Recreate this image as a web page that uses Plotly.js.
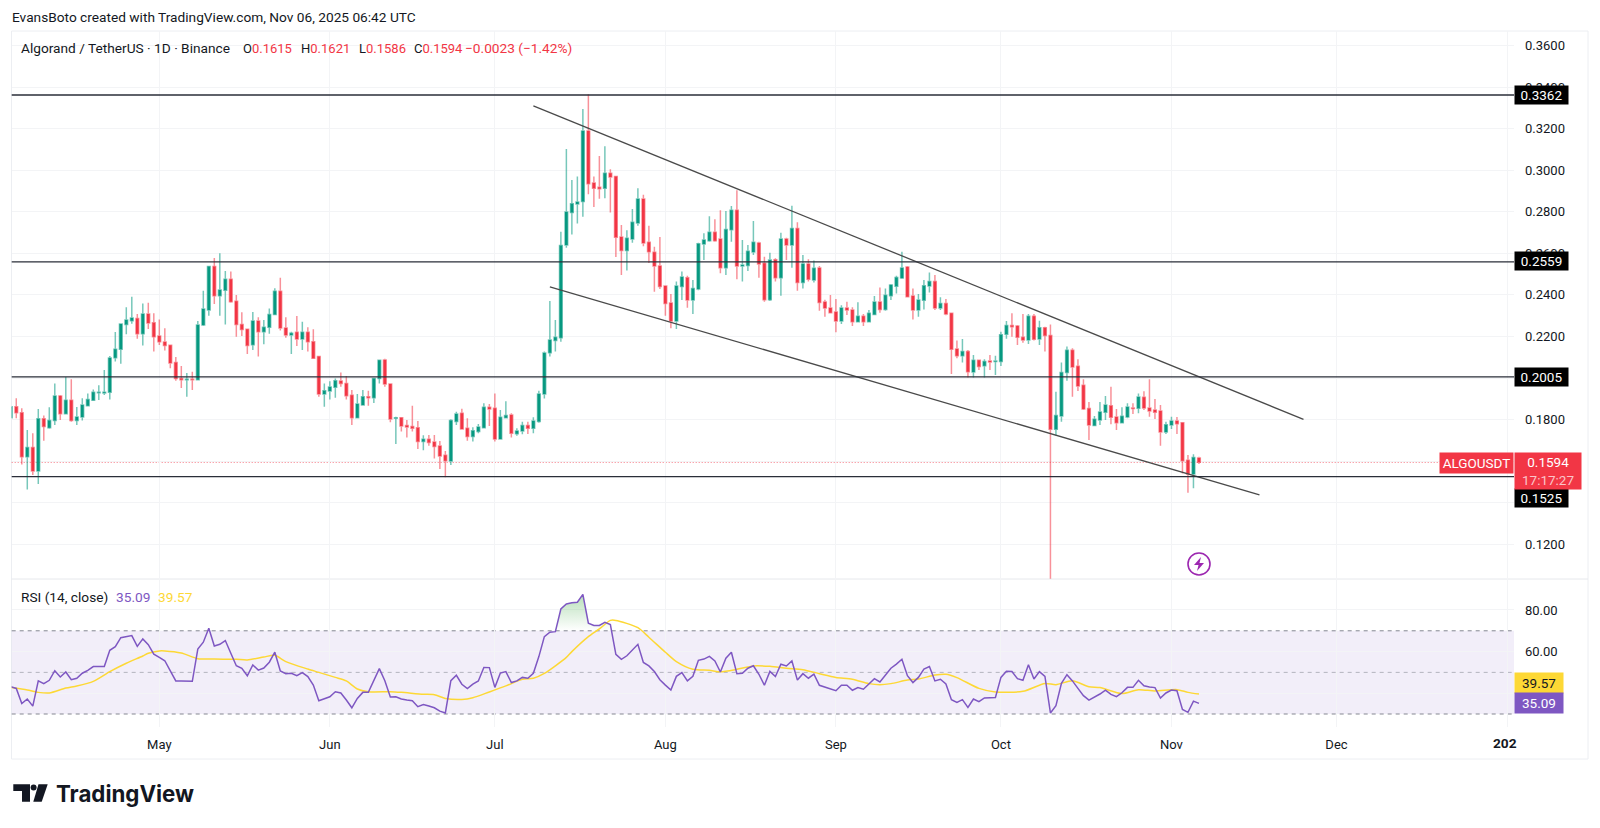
<!DOCTYPE html>
<html>
<head>
<meta charset="utf-8">
<title>ALGOUSDT</title>
<script src="https://cdn.plot.ly/plotly-3.0.1.min.js"></script>
<style>
  html, body { margin: 0; padding: 0; background: #fff; }
</style>
</head>
<body>
<div id="chart"></div>
<script>
// candles, one row per day: open, high, low, close
const candlesApr = [ // from the 4th
  [.1809,.1865,.1809,.1862],[.1862,.1902,.1806,.1833],[.1833,.1854,.1584,.1621],[.1621,.1750,.1464,.1666],
  [.1666,.1734,.1533,.1552],[.1552,.1851,.1490,.1804],[.1804,.1819,.1698,.1766],[.1761,.1859,.1756,.1796],
  [.1796,.1974,.1774,.1913],[.1913,.1918,.1798,.1828],[.1828,.2005,.1828,.1893],[.1893,.1994,.1790,.1795],
  [.1795,.1860,.1774,.1812],[.1812,.1902,.1795,.1870],[.1867,.1926,.1867,.1896],[.1893,.1945,.1893,.1931],
  [.1929,.1965,.1894,.1931],[.1928,.2039,.1918,.1931],[.1931,.2106,.1897,.2096],[.2098,.2221,.2079,.2138],
  [.2138,.2263,.2069,.2260],[.2257,.2340,.2210,.2279],[.2276,.2391,.2261,.2289],[.2286,.2308,.2189,.2213],
  [.2213,.2359,.2156,.2308],[.2308,.2362,.2236,.2265],[.2266,.2311,.2127,.2199]
];
const candlesMay = [
  [.2202,.2282,.2159,.2175],[.2173,.2239,.2132,.2156],[.2157,.2157,.2047,.2072],[.2074,.2101,.1987,.1997],
  [.1998,.2058,.1952,.1992],[.1992,.2024,.1910,.1994],[.1994,.2030,.1942,.1992],[.1992,.2274,.1990,.2255],
  [.2255,.2420,.2250,.2332],[.2327,.2537,.2300,.2537],[.2537,.2577,.2356,.2396],[.2396,.2600,.2300,.2423],
  [.2422,.2515,.2257,.2475],[.2475,.2512,.2362,.2367],[.2369,.2399,.2199,.2258],[.2258,.2316,.2202,.2233],
  [.2234,.2236,.2116,.2156],[.2160,.2318,.2135,.2274],[.2274,.2292,.2104,.2223],[.2223,.2279,.2162,.2244],
  [.2244,.2335,.2213,.2306],[.2305,.2432,.2302,.2417],[.2417,.2483,.2228,.2241],[.2241,.2292,.2194,.2207],
  [.2207,.2223,.2116,.2215],[.2220,.2298,.2154,.2188],[.2188,.2271,.2135,.2220],[.2220,.2244,.2127,.2175],
  [.2175,.2234,.2093,.2095],[.2103,.2107,.1910,.1923],[.1923,.1974,.1862,.1939]
];
const candlesJun = [
  [.1937,.1984,.1897,.1957],[.1955,.1997,.1905,.1987],[.1986,.2027,.1958,.1973],[.1973,.2010,.1897,.1914],
  [.1917,.1942,.1774,.1809],[.1809,.1923,.1806,.1875],[.1870,.1942,.1867,.1910],[.1910,.1939,.1867,.1905],
  [.1905,.1997,.1880,.1997],[.1997,.2085,.1974,.2085],[.2087,.2093,.1958,.1971],[.1971,.1974,.1787,.1803],
  [.1806,.1814,.1682,.1809],[.1809,.1809,.1742,.1769],[.1772,.1798,.1714,.1764],[.1767,.1867,.1742,.1758],
  [.1761,.1793,.1658,.1694],[.1694,.1724,.1652,.1705],[.1705,.1726,.1674,.1689],[.1692,.1726,.1613,.1670],
  [.1673,.1697,.1562,.1625],[.1628,.1649,.1522,.1602],[.1601,.1801,.1581,.1795],[.1791,.1838,.1774,.1827],
  [.1830,.1852,.1753,.1755],[.1758,.1806,.1698,.1718],[.1718,.1763,.1694,.1746],[.1743,.1779,.1734,.1764],
  [.1761,.1878,.1758,.1859],[.1859,.1875,.1769,.1851]
];
const candlesJul = [
  [.1854,.1926,.1694,.1706],[.1706,.1846,.1706,.1811],[.1809,.1888,.1809,.1820],[.1822,.1830,.1714,.1734],
  [.1732,.1758,.1722,.1745],[.1745,.1790,.1729,.1771],[.1771,.1790,.1730,.1758],[.1758,.1811,.1734,.1793],
  [.1791,.1939,.1785,.1923],[.1923,.2127,.1901,.2120],[.2122,.2371,.2103,.2183],[.2181,.2279,.2127,.2196],
  [.2194,.2704,.2175,.2638],[.2640,.3102,.2627,.2799],[.2797,.2953,.2691,.2839],[.2837,.2970,.2743,.2847],
  [.2849,.3295,.2776,.3189],[.3189,.3365,.2884,.2935],[.2938,.2970,.2823,.2913],[.2918,.3068,.2863,.2911],
  [.2913,.3115,.2865,.2985],[.2985,.3004,.2796,.2967],[.2970,.2970,.2582,.2677],[.2679,.2736,.2496,.2614],
  [.2614,.2711,.2517,.2672],[.2669,.2813,.2651,.2749],[.2746,.2913,.2733,.2861],[.2861,.2882,.2634,.2650],
  [.2653,.2733,.2553,.2608],[.2605,.2632,.2415,.2539],[.2539,.2679,.2428,.2440]
];
const candlesAug = [
  [.2443,.2443,.2300,.2359],[.2361,.2404,.2239,.2274],[.2274,.2464,.2236,.2443],[.2440,.2512,.2375,.2486],
  [.2483,.2492,.2338,.2375],[.2375,.2472,.2308,.2431],[.2428,.2651,.2422,.2646],[.2645,.2696,.2568,.2664],
  [.2661,.2778,.2656,.2701],[.2701,.2764,.2656,.2661],[.2669,.2807,.2504,.2531],[.2531,.2804,.2496,.2715],
  [.2714,.2828,.2656,.2807],[.2807,.2903,.2475,.2539],[.2539,.2664,.2464,.2544],[.2541,.2640,.2515,.2610],
  [.2606,.2756,.2592,.2653],[.2650,.2656,.2483,.2549],[.2552,.2584,.2367,.2377],[.2377,.2603,.2371,.2568],
  [.2569,.2576,.2464,.2483],[.2483,.2699,.2396,.2669],[.2669,.2675,.2568,.2640],[.2640,.2829,.2531,.2719],
  [.2719,.2749,.2420,.2459],[.2459,.2592,.2431,.2549],[.2549,.2571,.2464,.2475],[.2472,.2565,.2459,.2528],
  [.2529,.2539,.2324,.2363],[.2366,.2376,.2295,.2337],[.2337,.2399,.2311,.2314]
];
const candlesSep = [
  [.2318,.2380,.2220,.2274],[.2274,.2350,.2260,.2337],[.2337,.2367,.2303,.2327],[.2327,.2340,.2250,.2271],
  [.2271,.2364,.2268,.2297],[.2297,.2308,.2250,.2271],[.2271,.2327,.2271,.2311],[.2305,.2395,.2303,.2366],
  [.2366,.2436,.2314,.2330],[.2330,.2431,.2324,.2398],[.2396,.2452,.2375,.2448],[.2441,.2492,.2407,.2484],
  [.2481,.2608,.2476,.2529],[.2534,.2539,.2388,.2391],[.2395,.2431,.2282,.2327],[.2327,.2404,.2295,.2375],
  [.2374,.2472,.2330,.2444],[.2443,.2508,.2411,.2464],[.2464,.2496,.2327,.2337],[.2337,.2388,.2327,.2358],
  [.2358,.2380,.2302,.2308],[.2311,.2311,.2019,.2138],[.2140,.2181,.2095,.2107],[.2107,.2188,.2075,.2128],
  [.2128,.2135,.2003,.2030],[.2029,.2111,.2003,.2085],[.2085,.2087,.2038,.2055],[.2059,.2090,.2003,.2080],
  [.2082,.2111,.2038,.2077],[.2079,.2107,.2014,.2082]
];
const candlesOct = [
  [.2079,.2223,.2058,.2208],[.2210,.2274,.2189,.2253],[.2253,.2311,.2199,.2247],[.2250,.2255,.2159,.2196],
  [.2196,.2308,.2170,.2183],[.2183,.2308,.2164,.2297],[.2297,.2308,.2180,.2186],[.2188,.2276,.2159,.2242],
  [.2242,.2247,.2127,.2204],[.2205,.2257,.1034,.1753],[.1753,.1934,.1723,.1819],[.1817,.2074,.1790,.2027],
  [.2026,.2151,.1987,.2133],[.2133,.2143,.1910,.2053],[.2056,.2090,.1938,.1962],[.1965,.1994,.1846,.1851],
  [.1853,.1885,.1702,.1774],[.1771,.1817,.1769,.1801],[.1798,.1885,.1774,.1836],[.1835,.1913,.1798,.1870],
  [.1867,.1958,.1777,.1811],[.1812,.1851,.1750,.1785],[.1785,.1859,.1782,.1816],[.1812,.1878,.1806,.1860],
  [.1856,.1878,.1827,.1853],[.1854,.1926,.1830,.1909],[.1907,.1936,.1846,.1856],[.1856,.1994,.1814,.1841],
  [.1846,.1899,.1803,.1835],[.1841,.1870,.1674,.1740],[.1740,.1790,.1731,.1775]
];
const candlesNov = [
  [.1774,.1814,.1755,.1793],[.1793,.1812,.1731,.1780],[.1785,.1788,.1541,.1602],[.1604,.1629,.1448,.1538],
  [.1538,.1633,.1469,.1618],[.1615,.1621,.1586,.1594]
];

// RSI (14) per day, same dates as the candles
const rsiApr = [43.1,42.3,35.0,37.2,33.8,45.9,44.6,46.2,50.8,47.8,50.2,46.5,47.2,49.6,51.0,52.8,52.8,52.8,60.6,62.4,66.7,67.3,67.7,62.5,66.1,63.3,58.8];
const rsiMay = [57.2,55.6,50.7,45.9,45.9,45.7,45.7,61.2,64.5,71.2,62.7,63.5,65.3,59.2,53.2,52.0,48.4,53.6,51.1,52.1,54.9,59.7,50.7,49.4,49.6,48.4,49.9,48.0,43.9,36.4,37.2];
const rsiJun = [38.3,40.7,40.1,36.7,33.0,37.5,40.4,40.4,46.4,51.8,46.0,38.2,38.3,37.2,36.7,36.4,33.5,34.5,33.8,33.0,31.4,30.5,46.0,48.6,44.3,42.2,44.4,45.9,52.4,52.3];
const rsiJul = [42.8,49.7,50.4,45.1,45.9,47.6,47.2,49.6,57.6,67.2,69.3,69.6,80.5,82.9,83.5,83.7,87.5,73.7,72.6,72.6,74.1,73.0,58.7,56.3,58.0,60.6,63.5,54.8,53.1,50.4,46.5];
const rsiAug = [43.9,41.5,48.1,49.9,45.9,48.1,55.8,56.4,57.7,55.5,50.2,56.8,59.7,49.4,49.6,52.0,53.2,49.1,43.8,50.5,48.0,53.9,53.1,55.5,46.3,49.4,47.2,49.2,43.8,43.0,42.3];
const rsiSep = [41.2,43.8,43.8,41.4,42.7,41.9,44.4,47.0,45.4,48.9,52.0,54.0,56.3,48.4,45.1,47.6,51.6,52.8,45.9,46.7,44.4,36.9,35.6,36.9,33.2,37.2,35.9,37.7,37.7,37.9];
const rsiOct = [47.6,50.5,50.4,47.0,46.2,53.7,46.8,50.4,48.1,30.5,34.0,44.7,48.9,45.9,42.3,38.8,36.7,38.0,39.6,41.5,39.4,38.3,40.2,42.8,42.8,46.2,43.6,43.0,42.7,37.7,40.1];
const rsiNov = [41.5,41.2,32.2,30.8,36.2,35.09];

// RSI moving average, read at the points where it bends
const maDates = ['2025-04-04','2025-04-07','2025-04-09','2025-04-11','2025-04-14','2025-04-16','2025-04-19','2025-04-22','2025-04-25','2025-04-28','2025-04-29',
  '2025-05-01','2025-05-02','2025-05-05','2025-05-08','2025-05-11','2025-05-15','2025-05-17','2025-05-20','2025-05-22','2025-05-24','2025-05-28','2025-05-30',
  '2025-06-02','2025-06-04','2025-06-06','2025-06-08','2025-06-12','2025-06-14','2025-06-18','2025-06-20','2025-06-22','2025-06-25','2025-06-27','2025-06-30',
  '2025-07-03','2025-07-06','2025-07-08','2025-07-10','2025-07-14','2025-07-15','2025-07-18','2025-07-20','2025-07-22','2025-07-23','2025-07-27','2025-07-29',
  '2025-08-01','2025-08-03','2025-08-06','2025-08-09','2025-08-11','2025-08-14','2025-08-17','2025-08-20','2025-08-23','2025-08-26','2025-08-29',
  '2025-09-01','2025-09-04','2025-09-07','2025-09-09','2025-09-11','2025-09-14','2025-09-16','2025-09-19','2025-09-21','2025-09-23','2025-09-27','2025-09-30',
  '2025-10-05','2025-10-09','2025-10-11','2025-10-14','2025-10-17','2025-10-19','2025-10-23','2025-10-26','2025-10-29','2025-11-02','2025-11-04','2025-11-06'];
const maValues = [42.7,41.5,40.4,40.1,42.5,43.5,45.7,50.4,54.4,57.9,59.2,
  60.3,60.3,59.3,56.6,56.4,56.3,56.0,57.4,58.2,55.2,51.6,50.0,
  47.6,45.9,42.0,40.7,40.7,40.4,39.5,39.3,37.5,37.0,37.8,40.6,
  43.5,46.7,47.2,49.5,57.2,60.0,67.2,70.9,75.0,75.0,71.5,66.9,
  59.7,55.2,51.5,51.0,50.3,51.5,53.1,52.9,52.0,51.3,49.4,
  47.6,46.7,44.6,44.1,44.6,46.3,46.8,48.7,49.1,47.5,42.3,40.6,
  40.9,44.7,44.1,46.0,43.1,42.7,39.8,41.7,41.1,41.7,40.4,39.57];

// stretch of RSI above 70 that gets the green fill
const overDates = ['2025-07-12','2025-07-13','2025-07-14','2025-07-15','2025-07-16','2025-07-17','2025-07-18','2025-07-19','2025-07-20','2025-07-21','2025-07-22','2025-07-22 05:00'];
const overValues = [70,80.5,82.9,83.5,83.7,87.5,73.7,72.6,72.6,74.1,73.0,70];

const levels = [0.3362, 0.2559, 0.2005, 0.1525];
const lastPrice = 0.1594;
const rsiLevels = [70, 50, 30];
const upperDates = ['2025-07-08', '2025-11-25'];
const upperValues = [0.3310, 0.1801];
const lowerDates = ['2025-07-11', '2025-11-17'];
const lowerValues = [0.2439, 0.1437];
const monthTicks = ['2025-05-01','2025-06-01','2025-07-01','2025-08-01','2025-09-01','2025-10-01','2025-11-01','2025-12-01','2026-01-01'];
const monthLabels = ['May','Jun','Jul','Aug','Sep','Oct','Nov','Dec',''];
const priceTicks = [0.12,0.14,0.16,0.18,0.20,0.22,0.24,0.26,0.28,0.30,0.32,0.34,0.36];
const priceTicksHidden = [0.14,0.16,0.20]; // the price tags sit on these
const rsiTicks = [40, 60, 80];

const W = 1600, H = 828;
const FONT = 'Roboto, sans-serif';
const GREEN = '#089981', RED = '#f23645', INK = '#131722';
const PURPLE = '#7e57c2', YELLOW = '#fdd835';
const GRID = '#f3f4f6';
const TEXT_SIZE = 13.7;

const months = [['2025-04',4,candlesApr,rsiApr],['2025-05',1,candlesMay,rsiMay],['2025-06',1,candlesJun,rsiJun],['2025-07',1,candlesJul,rsiJul],
  ['2025-08',1,candlesAug,rsiAug],['2025-09',1,candlesSep,rsiSep],['2025-10',1,candlesOct,rsiOct],['2025-11',1,candlesNov,rsiNov]];

const dates = [], candles = [], rsi = [];
months.forEach(([ym, first, rows, vals]) => {
  rows.forEach((r, i) => {
    dates.push(ym + '-' + String(first + i).padStart(2, '0'));
    candles.push(r);
    rsi.push(vals[i]);
  });
});

var candleTrace = {
  type: 'candlestick', x: dates, xaxis: 'x', yaxis: 'y',
  open: candles.map(r => r[0]), high: candles.map(r => r[1]),
  low: candles.map(r => r[2]), close: candles.map(r => r[3]),
  increasing: {line: {color: 'rgba(8,153,129,0.55)', width: 1.5}, fillcolor: GREEN},
  decreasing: {line: {color: 'rgba(242,54,69,0.55)', width: 1.5}, fillcolor: RED},
  hoverinfo: 'skip', showlegend: false
};
const trend = (x, y) => ({type: 'scatter', mode: 'lines', x: x, y: y, xaxis: 'x', yaxis: 'y',
  line: {color: '#4a4a4a', width: 1.3}, hoverinfo: 'skip', showlegend: false});

var overBase = {type: 'scatter', mode: 'lines', x: overDates, y: overDates.map(() => 70), xaxis: 'x', yaxis: 'y2',
  line: {width: 0}, hoverinfo: 'skip', showlegend: false};
var overFill = {type: 'scatter', mode: 'lines', x: overDates, y: overValues, xaxis: 'x', yaxis: 'y2',
  line: {width: 0}, fill: 'tonexty',
  fillgradient: {type: 'vertical', colorscale: [[0, 'rgba(76,175,80,0)'], [1, 'rgba(76,175,80,0.4)']]},
  hoverinfo: 'skip', showlegend: false};
var maTrace = {type: 'scatter', mode: 'lines', x: maDates, y: maValues, xaxis: 'x', yaxis: 'y2',
  line: {color: YELLOW, width: 1.5, shape: 'spline', smoothing: 0.7}, hoverinfo: 'skip', showlegend: false};
var rsiTrace = {type: 'scatter', mode: 'lines', x: dates, y: rsi, xaxis: 'x', yaxis: 'y2',
  line: {color: PURPLE, width: 1.5}, hoverinfo: 'skip', showlegend: false};

// paper helpers, page pixels to plot fractions
const px = x => x / W, py = y => 1 - y / H;

const note = (text, x, y, extra) => Object.assign({
  text: text, xref: 'paper', yref: 'paper', x: px(x), y: py(y),
  xanchor: 'left', yanchor: 'middle', showarrow: false, align: 'left',
  font: {family: FONT, size: TEXT_SIZE, color: INK}
}, extra || {});
const tag = (text, x, y, w, h, bg, color) => note(text, x, y, {
  width: w, height: h, bgcolor: bg, borderpad: 0, align: 'center',
  font: {family: FONT, size: 13.5, color: color}
});
const last = candles[candles.length - 1];
const red = s => '<span style="color:' + RED + '">' + s + '</span>';
const ohlcFont = {font: {family: FONT, size: 13, color: INK}};

var annotations = [
  note('EvansBoto created with TradingView.com, Nov 06, 2025 06:42 UTC', 10, 17),
  note('Algorand / TetherUS · 1D · Binance', 19, 48),
  note('O' + red(last[0].toFixed(4)), 241, 48, ohlcFont),
  note('H' + red(last[1].toFixed(4)), 299, 48, ohlcFont),
  note('L' + red(last[2].toFixed(4)), 356.6, 48, ohlcFont),
  note('C' + red(last[3].toFixed(4)), 412, 48, ohlcFont),
  note(red('−0.0023 (−1.42%)'), 463, 48),
  note('RSI (14, close)', 18.5, 597),
  note(rsi[rsi.length - 1].toFixed(2), 114, 597, {font: {family: FONT, size: TEXT_SIZE, color: PURPLE}}),
  note(maValues[maValues.length - 1].toFixed(2), 156, 597, {font: {family: FONT, size: TEXT_SIZE, color: YELLOW}}),
  tag(levels[0].toFixed(4), 1514, 95, 53, 18, '#000', '#fff'),
  tag(levels[1].toFixed(4), 1514, 261.5, 53, 18, '#000', '#fff'),
  tag(levels[2].toFixed(4), 1514, 377, 53, 18, '#000', '#fff'),
  tag(levels[3].toFixed(4), 1514, 498, 53, 18, '#000', '#fff'),
  tag('ALGOUSDT', 1439, 463, 73, 20, RED, '#fff'),
  tag(lastPrice.toFixed(4) + '<br><span style="color:#fbc4c9">17:17:27</span>', 1514, 471, 66, 36, RED, '#fff'),
  tag(maValues[maValues.length - 1].toFixed(2), 1514, 683, 48, 20, YELLOW, INK),
  tag(rsi[rsi.length - 1].toFixed(2), 1514, 703, 48, 20, PURPLE, '#fff'),
  note('<b>202</b>', 1491, 743),
  note('<b>TradingView</b>', 54, 793, {font: {family: 'Inter, sans-serif', size: 22.3, color: INK}})
];

const levelShapes = levels.map(v => ({type: 'line', xref: 'paper', yref: 'y', x0: px(11.7), x1: px(1514), y0: v, y1: v,
  line: {color: '#2a2e39', width: 1.3}, layer: 'above'}));
const rsiShapes = rsiLevels.map(v => ({type: 'line', xref: 'paper', yref: 'y2', x0: px(11.7), x1: px(1514), y0: v, y1: v,
  line: {color: v === 50 ? 'rgba(120,123,134,0.5)' : 'rgba(120,123,134,0.9)', width: 1, dash: '4px,4px'}, layer: 'below'}));
const pathOf = pts => 'M' + pts.map(p => px(p[0]) + ',' + py(p[1])).join('L') + 'Z';

var shapes = [
  {type: 'rect', xref: 'paper', yref: 'paper', x0: px(11.5), x1: px(1588), y0: py(759), y1: py(31), line: {color: '#eceef2', width: 1}, layer: 'below'},
  {type: 'line', xref: 'paper', yref: 'paper', x0: px(11.5), x1: px(1588), y0: py(579), y1: py(579), line: {color: '#e6e8ec', width: 1}, layer: 'below'},
  {type: 'rect', xref: 'paper', yref: 'y2', x0: px(11.7), x1: px(1514), y0: rsiLevels[2], y1: rsiLevels[0], line: {width: 0}, fillcolor: 'rgba(126,87,194,0.1)', layer: 'below'},
  {type: 'line', xref: 'paper', yref: 'y', x0: px(11.7), x1: px(1439), y0: lastPrice, y1: lastPrice, line: {color: 'rgba(242,54,69,0.75)', width: 1, dash: '1px,2px'}, layer: 'below'},
  // alert icon
  {type: 'circle', xref: 'paper', yref: 'paper', x0: px(1188), x1: px(1210), y0: py(575), y1: py(553), line: {color: '#9c27b0', width: 1.6}, fillcolor: '#fff'},
  {type: 'path', xref: 'paper', yref: 'paper', path: pathOf([[1201,557],[1194,565],[1198.5,565],[1197,571],[1204,563],[1199.5,563]]), fillcolor: '#9c27b0', line: {width: 0}},
  // logo
  {type: 'path', xref: 'paper', yref: 'paper', path: pathOf([[13.3,784.3],[30,784.3],[30,801.7],[22,801.7],[22,791],[13.3,791]]), fillcolor: INK, line: {width: 0}},
  {type: 'circle', xref: 'paper', yref: 'paper', x0: px(30.6), x1: px(36.6), y0: py(790.6), y1: py(784.6), fillcolor: INK, line: {width: 0}},
  {type: 'path', xref: 'paper', yref: 'paper', path: pathOf([[38.5,784.3],[47.7,784.3],[41.7,801.7],[33.3,801.7]]), fillcolor: INK, line: {width: 0}}
].concat(rsiShapes, levelShapes);

var layout = {
  width: W, height: H,
  margin: {l: 0, r: 0, t: 0, b: 0},
  paper_bgcolor: '#fff', plot_bgcolor: 'rgba(0,0,0,0)',
  font: {family: FONT, size: 13, color: INK},
  showlegend: false, hovermode: false, dragmode: false,
  xaxis: {
    type: 'date', domain: [px(11.7), px(1514)], anchor: 'y2',
    range: ['2025-04-04 04:00', '2026-01-02 06:30'],
    tickmode: 'array', tickvals: monthTicks, ticktext: monthLabels,
    showgrid: true, gridcolor: GRID, gridwidth: 1, ticklen: 0, ticklabelstandoff: 8,
    showline: false, zeroline: false, rangeslider: {visible: false}
  },
  yaxis: {
    domain: [py(579), py(31)], anchor: 'x', side: 'right',
    range: [0.10327, 0.36699],
    tickmode: 'array', tickvals: priceTicks,
    ticktext: priceTicks.map(v => priceTicksHidden.includes(v) ? '' : v.toFixed(4)),
    showgrid: true, gridcolor: GRID, ticklen: 0, ticklabelstandoff: 10, zeroline: false, showline: false
  },
  yaxis2: {
    domain: [py(727), py(579)], anchor: 'x', side: 'right',
    range: [23.75, 94.9],
    tickmode: 'array', tickvals: rsiTicks, ticktext: rsiTicks.map(v => v === 40 ? '' : v.toFixed(2)),
    showgrid: true, gridcolor: GRID, ticklen: 0, ticklabelstandoff: 10, zeroline: false, showline: false
  },
  shapes: shapes,
  annotations: annotations
};

Plotly.newPlot('chart', [candleTrace, trend(upperDates, upperValues), trend(lowerDates, lowerValues), overBase, overFill, maTrace, rsiTrace], layout, {displayModeBar: false, staticPlot: true});
</script>
</body>
</html>
